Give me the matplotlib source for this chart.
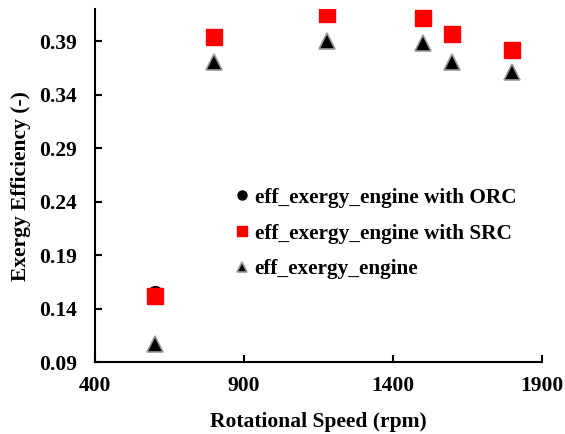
import matplotlib
matplotlib.use('Agg')
import matplotlib.pyplot as plt

# rotational speed (rpm)
speed = [600, 800, 1180, 1500, 1600, 1800]
# exergy efficiency values
eff_orc = [0.155, 0.394, 0.415, 0.411, 0.397, 0.382]
eff_src = [0.152, 0.394, 0.4155, 0.4118, 0.397, 0.382]
eff_engine = [0.107, 0.371, 0.390, 0.388, 0.371, 0.361]

xticks = [400, 900, 1400, 1900]
yticks = [0.09, 0.14, 0.19, 0.24, 0.29, 0.34, 0.39]

plt.rcParams['font.family'] = ['Liberation Serif', 'DejaVu Serif']
plt.rcParams['font.weight'] = 'bold'

fig = plt.figure(figsize=(5.65, 4.34), dpi=100)
ax = fig.add_axes([0.168, 0.165, 0.791, 0.814])

ax.plot(speed, eff_orc, 'o', color='black', ms=10, label='eff_exergy_engine with ORC')
ax.plot(speed, eff_src, 's', color='#ff0000', ms=12, mec='#ff0000', label='eff_exergy_engine with SRC')
ax.plot(speed, eff_engine, '^', color='black', ms=12, mec='#999999', mew=1.2,
        label='eff_exergy_engine')

ax.set_xlim(400, 1900)
ax.set_ylim(0.09, 0.42)
ax.set_xticks(xticks)
ax.set_yticks(yticks)
ax.set_yticklabels([f'{v:.2f}' for v in yticks])

for side in ['top', 'right']:
    ax.spines[side].set_visible(False)
for side in ['left', 'bottom']:
    ax.spines[side].set_linewidth(1.5)
ax.tick_params(direction='in', length=5, width=1.5, labelsize=15.5)
ax.tick_params(axis='x', pad=10)
ax.tick_params(axis='y', pad=13)

ax.set_xlabel('Rotational Speed (rpm)', fontsize=15.5, fontweight='bold', labelpad=11)
ax.set_ylabel('Exergy Efficiency (-)', fontsize=15.5, fontweight='bold', labelpad=6)

leg = ax.legend(loc='upper left', bbox_to_anchor=(0.272, 0.549), frameon=False,
                fontsize=15.3, markerscale=0.65, handlelength=0.6, handletextpad=0.3,
                labelspacing=0.75)

fig.savefig('out.png', dpi=100)
